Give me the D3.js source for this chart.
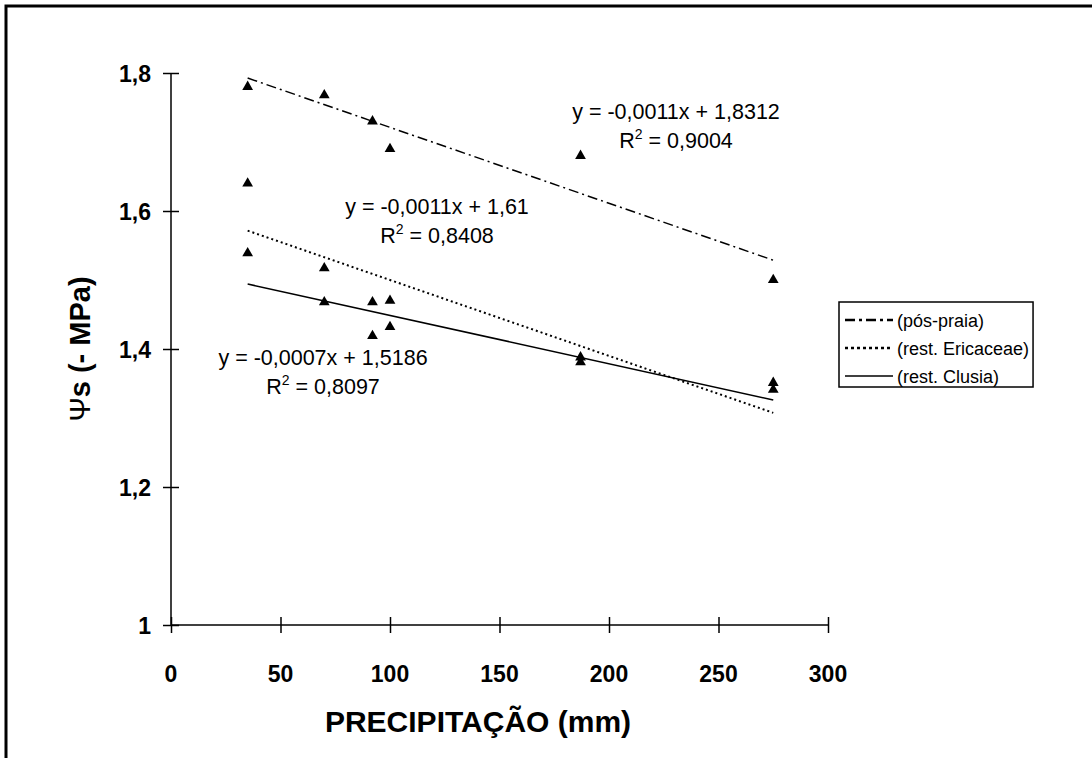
<!DOCTYPE html>
<html>
<head>
<meta charset="utf-8">
<script src="https://cdn.jsdelivr.net/npm/d3@7"></script>
<style>
  body { margin: 0; background: #fff; }
  svg { display: block; font-family: "Liberation Sans", Arial, sans-serif; }
</style>
</head>
<body>
<div id="plot"></div>
<script>
// Precipitation (mm) for each sampling
const precip = [35, 70, 92, 100, 187, 275];

// Osmotic potential (-MPa) per site
const posPraia = [1.78, 1.768, 1.73, 1.69, 1.68, 1.50];
const ericaceae = [1.64, 1.517, 1.468, 1.47, 1.388, 1.341];
const clusia = [1.539, 1.468, 1.419, 1.432, 1.381, 1.351];

// Trend lines as shown on the chart
const seriesNames = ['(pós-praia)', '(rest. Ericaceae)', '(rest. Clusia)'];
const slopes = [-0.0011, -0.0011, -0.0007];
const intercepts = [1.8312, 1.61, 1.5186];
const eqLabels = ['y = -0,0011x + 1,8312', 'y = -0,0011x + 1,61', 'y = -0,0007x + 1,5186'];
const r2Labels = ['0,9004', '0,8408', '0,8097'];

const xTicks = [0, 50, 100, 150, 200, 250, 300];
const yTicks = [1, 1.2, 1.4, 1.6, 1.8];

const W = 1092, H = 758;
const margin = {left: 171, right: 828, top: 73, bottom: 625};

const svg = d3.select('#plot')
  .append('svg')
    .attr('width', W)
    .attr('height', H);

// Outer frame (only left and top edges visible)
svg.append('rect')
  .attr('x', 6).attr('y', 6)
  .attr('width', W + 20).attr('height', H + 20)
  .attr('fill', 'none')
  .attr('stroke', '#000')
  .attr('stroke-width', 3);

const x = d3.scaleLinear().domain([0, 300]).range([margin.left, margin.right]);
const y = d3.scaleLinear().domain([1, 1.8]).range([margin.bottom, margin.top]);

// Axes with crossing ticks
const xAxis = svg.append('g')
  .attr('transform', `translate(0,${margin.bottom})`)
  .call(d3.axisBottom(x).tickValues(xTicks).tickSize(8).tickSizeOuter(0).tickFormat(''));
xAxis.selectAll('.tick line').attr('y1', -8);
xAxis.select('.domain').attr('d', `M${margin.left},0H${margin.right}`);

const yAxis = svg.append('g')
  .attr('transform', `translate(${margin.left},0)`)
  .call(d3.axisLeft(y).tickValues(yTicks).tickSize(8).tickSizeOuter(0).tickFormat(''));
yAxis.selectAll('.tick line').attr('x1', 8);
yAxis.select('.domain').attr('d', `M0,${margin.bottom}V${margin.top}`);

svg.selectAll('.domain, .tick line')
  .attr('stroke', '#000')
  .attr('stroke-width', 1.5);

const fmt = d => String(d).replace('.', ',');

// Tick labels
svg.append('g').selectAll('text')
  .data(xTicks)
  .enter()
  .append('text')
    .attr('x', d => x(d))
    .attr('y', margin.bottom + 57)
    .attr('text-anchor', 'middle')
    .attr('font-size', 23)
    .attr('font-weight', 'bold')
    .text(d => d);

svg.append('g').selectAll('text')
  .data(yTicks)
  .enter()
  .append('text')
    .attr('x', margin.left - 20)
    .attr('y', d => y(d) + 9)
    .attr('text-anchor', 'end')
    .attr('font-size', 23)
    .attr('font-weight', 'bold')
    .text(fmt);

// Axis titles
svg.append('text')
  .attr('x', 478)
  .attr('y', 732)
  .attr('text-anchor', 'middle')
  .attr('font-size', 30)
  .attr('font-weight', 'bold')
  .text('PRECIPITAÇÃO (mm)');

const yt = svg.append('text')
  .attr('transform', `translate(90,${(margin.top + margin.bottom) / 2}) rotate(-90)`)
  .attr('text-anchor', 'middle')
  .attr('font-size', 29)
  .attr('font-weight', 'bold');
yt.append('tspan').attr('font-weight', 'normal').text('Ψ');
yt.append('tspan').text('s (- MPa)');

// Trend lines
const dashes = ['10,4,2,4', '2,3', null];
const widths = [1.5, 2, 1.6];
const x0 = d3.min(precip), x1 = d3.max(precip);

seriesNames.forEach((name, i) => {
  svg.append('line')
    .attr('x1', x(x0))
    .attr('y1', y(slopes[i] * x0 + intercepts[i]))
    .attr('x2', x(x1))
    .attr('y2', y(slopes[i] * x1 + intercepts[i]))
    .attr('stroke', '#000')
    .attr('stroke-width', widths[i])
    .attr('stroke-dasharray', dashes[i]);
});

// Points
const triangle = d3.symbol().type(d3.symbolTriangle).size(50);
[posPraia, ericaceae, clusia].forEach(vals => {
  svg.append('g')
    .selectAll('path')
    .data(vals)
    .enter()
    .append('path')
      .attr('d', triangle)
      .attr('transform', (d, j) => `translate(${x(precip[j])},${y(d)})`)
      .attr('fill', '#000');
});

// Equation labels
const eqPos = [[676, 119], [437, 214], [323, 365]];
eqLabels.forEach((lab, i) => {
  const g = svg.append('g').attr('font-size', 21.5).attr('text-anchor', 'middle');
  g.append('text')
    .attr('x', eqPos[i][0])
    .attr('y', eqPos[i][1])
    .text(lab);
  const r = g.append('text')
    .attr('x', eqPos[i][0])
    .attr('y', eqPos[i][1] + 29);
  r.append('tspan').text('R');
  r.append('tspan').attr('font-size', 14).attr('dy', -9).text('2');
  r.append('tspan').attr('dy', 9).text(' = ' + r2Labels[i]);
});

// Legend
const leg = svg.append('g').attr('transform', 'translate(839,302)');
const legBox = leg.append('rect')
  .attr('height', 85)
  .attr('fill', '#fff')
  .attr('stroke', '#000')
  .attr('stroke-width', 1.5);

let maxW = 0;
seriesNames.forEach((name, i) => {
  const cy = 18 + i * 28;
  leg.append('line')
    .attr('x1', 6).attr('x2', 54)
    .attr('y1', cy).attr('y2', cy)
    .attr('stroke', '#000')
    .attr('stroke-width', i < 2 ? 2.5 : 1.5)
    .attr('stroke-dasharray', i === 0 ? '10,4,3,4' : (i === 1 ? '3,3' : null));
  const t = leg.append('text')
    .attr('x', 58)
    .attr('y', cy + 7)
    .attr('font-size', 18)
    .text(name);
  maxW = Math.max(maxW, t.node().getComputedTextLength());
});
legBox.attr('width', 58 + maxW + 4);
</script>
</body>
</html>
